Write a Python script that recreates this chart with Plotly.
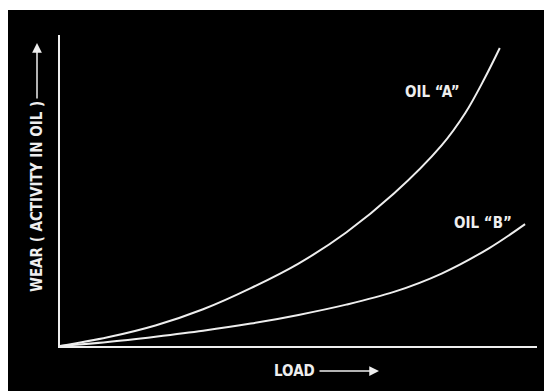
import plotly.graph_objects as go

# curve data (load and wear, 0-100 scale)
LOAD_A = [0, 10, 20, 30, 40, 50, 60, 70, 80, 85, 89, 92.2]
WEAR_A = [0, 2.8, 6.6, 11.8, 18.6, 26.5, 36.5, 49.0, 64.5, 75.0, 86.0, 95.8]

LOAD_B = [0, 10, 20, 30, 40, 50, 60, 70, 80, 90, 97.5]
WEAR_B = [0, 1.3, 3.0, 4.9, 7.2, 10.0, 13.3, 17.4, 23.3, 31.5, 39.2]

W, H = 544, 391
FG = "#eeeeee"
FONT = dict(family="Liberation Sans Narrow, DejaVu Sans Condensed, sans-serif",
            size=15, color=FG, weight="bold")

fig = go.Figure()
fig.add_trace(go.Scatter(x=LOAD_A, y=WEAR_A, mode="lines",
                         line=dict(color=FG, width=2, shape="spline"), showlegend=False))
fig.add_trace(go.Scatter(x=LOAD_B, y=WEAR_B, mode="lines",
                         line=dict(color=FG, width=2, shape="spline"), showlegend=False))

annot = [
    dict(text="OIL “A”", x=78, y=81.7, xref="x", yref="y", showarrow=False, font=FONT,
         xanchor="center", yanchor="middle"),
    dict(text="OIL “B”", x=88.7, y=39.5, xref="x", yref="y", showarrow=False, font=FONT,
         xanchor="center", yanchor="middle"),
    dict(text="WEAR ( ACTIVITY IN OIL )", x=37 / W, y=1 - 197 / H, xref="paper", yref="paper",
         textangle=-90, showarrow=False, font=FONT, xanchor="center", yanchor="middle"),
    dict(text="", x=37 / W, y=1 - 43 / H, xref="paper", yref="paper", showarrow=True,
         ax=0, ay=57, arrowhead=2, arrowsize=1.3, arrowwidth=1.5, arrowcolor=FG),
    dict(text="LOAD", x=294 / W, y=1 - 371 / H, xref="paper", yref="paper",
         showarrow=False, font=FONT, xanchor="center", yanchor="middle"),
    dict(text="", x=379 / W, y=1 - 371 / H, xref="paper", yref="paper", showarrow=True,
         ax=-61, ay=0, arrowhead=2, arrowsize=1.3, arrowwidth=1.5, arrowcolor=FG),
]

fig.update_layout(
    width=W, height=H,
    margin=dict(l=0, r=0, t=0, b=0),
    paper_bgcolor="white",
    plot_bgcolor="rgba(0,0,0,0)",
    shapes=[dict(type="rect", xref="paper", yref="paper", x0=8 / W, x1=1, y0=0, y1=1 - 10 / H,
                 fillcolor="black", line=dict(width=0), layer="below")],
    annotations=annot,
    xaxis=dict(range=[0, 100], domain=[60 / W, 537 / W], showgrid=False, zeroline=False,
               showline=True, linecolor=FG, linewidth=2, showticklabels=False, ticks=""),
    yaxis=dict(range=[0, 100], domain=[1 - 346 / H, 1 - 35 / H], showgrid=False, zeroline=False,
               showline=True, linecolor=FG, linewidth=2, showticklabels=False, ticks=""),
)

# drop the browser's default body margin so the figure sits at the page corner
fig.write_html("out.html", config={"displayModeBar": False},
               post_script="document.body.style.margin='0';")
